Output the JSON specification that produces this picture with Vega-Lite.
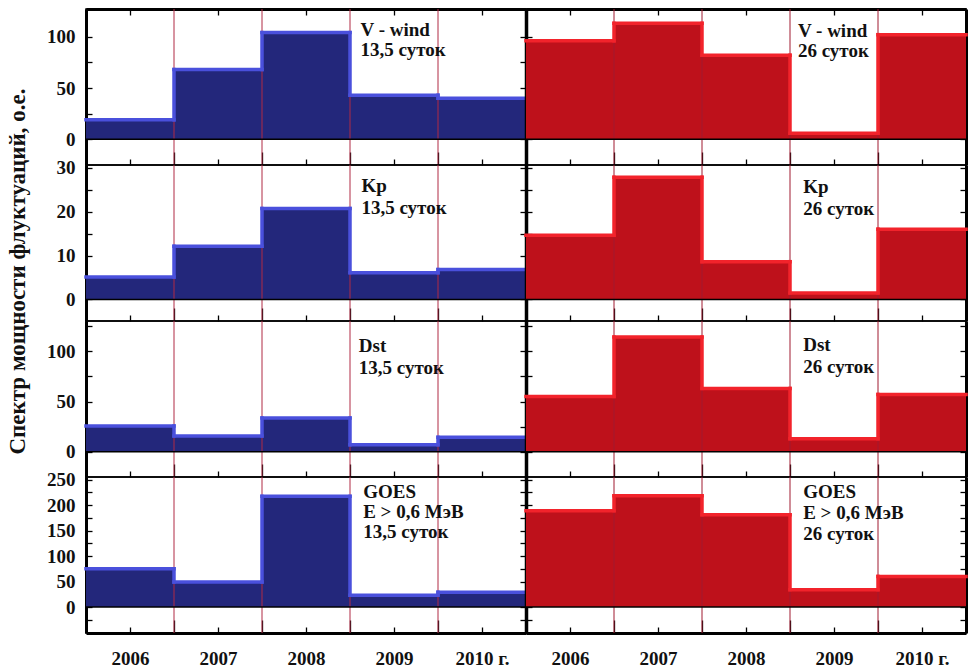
{
 "$schema": "https://vega.github.io/schema/vega-lite/v6.json",
 "background": "white",
 "padding": {"left": 5, "top": 7, "right": 4, "bottom": 0},
 "bounds": "flush",
 "spacing": 0,
 "columns": 2,
 "config": {
  "view": {"stroke": "black", "strokeWidth": 1.5},
  "axis": {"labelFont": "Liberation Serif", "labelFontWeight": "bold", "labelFontSize": 19, "labelColor": "#111111", "tickColor": "black", "tickWidth": 1.3, "domainColor": "black", "grid": false, "title": null, "zindex": 1}
 },
 "data": {"values": [
  {"p": "V", "s": "L", "year": 2006, "end": 2007, "v": 19},
  {"p": "V", "s": "L", "year": 2007, "end": 2008, "v": 68},
  {"p": "V", "s": "L", "year": 2008, "end": 2009, "v": 104},
  {"p": "V", "s": "L", "year": 2009, "end": 2010, "v": 43},
  {"p": "V", "s": "L", "year": 2010, "end": 2011, "v": 40},
  {"p": "V", "s": "R", "year": 2006, "end": 2007, "v": 96},
  {"p": "V", "s": "R", "year": 2007, "end": 2008, "v": 113},
  {"p": "V", "s": "R", "year": 2008, "end": 2009, "v": 82},
  {"p": "V", "s": "R", "year": 2009, "end": 2010, "v": 6},
  {"p": "V", "s": "R", "year": 2010, "end": 2011, "v": 102},
  {"p": "K", "s": "L", "year": 2006, "end": 2007, "v": 5.1},
  {"p": "K", "s": "L", "year": 2007, "end": 2008, "v": 12.1},
  {"p": "K", "s": "L", "year": 2008, "end": 2009, "v": 20.7},
  {"p": "K", "s": "L", "year": 2009, "end": 2010, "v": 6.1},
  {"p": "K", "s": "L", "year": 2010, "end": 2011, "v": 6.8},
  {"p": "K", "s": "R", "year": 2006, "end": 2007, "v": 14.6},
  {"p": "K", "s": "R", "year": 2007, "end": 2008, "v": 27.8},
  {"p": "K", "s": "R", "year": 2008, "end": 2009, "v": 8.6},
  {"p": "K", "s": "R", "year": 2009, "end": 2010, "v": 1.5},
  {"p": "K", "s": "R", "year": 2010, "end": 2011, "v": 16},
  {"p": "D", "s": "L", "year": 2006, "end": 2007, "v": 25.7},
  {"p": "D", "s": "L", "year": 2007, "end": 2008, "v": 15.8},
  {"p": "D", "s": "L", "year": 2008, "end": 2009, "v": 33.6},
  {"p": "D", "s": "L", "year": 2009, "end": 2010, "v": 7},
  {"p": "D", "s": "L", "year": 2010, "end": 2011, "v": 14.4},
  {"p": "D", "s": "R", "year": 2006, "end": 2007, "v": 55},
  {"p": "D", "s": "R", "year": 2007, "end": 2008, "v": 114},
  {"p": "D", "s": "R", "year": 2008, "end": 2009, "v": 63},
  {"p": "D", "s": "R", "year": 2009, "end": 2010, "v": 13},
  {"p": "D", "s": "R", "year": 2010, "end": 2011, "v": 57},
  {"p": "G", "s": "L", "year": 2006, "end": 2007, "v": 75},
  {"p": "G", "s": "L", "year": 2007, "end": 2008, "v": 49},
  {"p": "G", "s": "L", "year": 2008, "end": 2009, "v": 217},
  {"p": "G", "s": "L", "year": 2009, "end": 2010, "v": 23},
  {"p": "G", "s": "L", "year": 2010, "end": 2011, "v": 29},
  {"p": "G", "s": "R", "year": 2006, "end": 2007, "v": 189},
  {"p": "G", "s": "R", "year": 2007, "end": 2008, "v": 218},
  {"p": "G", "s": "R", "year": 2008, "end": 2009, "v": 181},
  {"p": "G", "s": "R", "year": 2009, "end": 2010, "v": 34},
  {"p": "G", "s": "R", "year": 2010, "end": 2011, "v": 60}
 ]},
 "concat": [
  {
   "width": 440, "height": 156,
   "transform": [{"filter": "datum.p == 'V' && datum.s == 'L'"}, {"window": [{"op": "lag", "field": "v", "as": "prev"}], "sort": [{"field": "year"}]}],
   "layer": [
    {"mark": {"type": "bar", "color": "#23277b"},
     "encoding": {
      "x": {"field": "year", "type": "quantitative", "scale": {"domain": [2006, 2011], "nice": false, "zero": false}, "axis": {"values": [2006.5, 2007, 2007.5, 2008, 2008.5, 2009, 2009.5, 2010, 2010.5], "labels": false, "domain": false, "tickSize": {"condition": {"test": "datum.value % 1 == 0", "value": -13}, "value": -6}, "title": null}},
      "x2": {"field": "end"},
      "y": {"field": "v", "type": "quantitative", "scale": {"domain": [-25, 127], "nice": false, "zero": false}, "axis": {"orient": "left", "values": [0, 25, 50, 75, 100], "labelExpr": "datum.value >= 0 && datum.value % 50 == 0 ? datum.label : ''", "tickSize": -6, "labelPadding": 17, "domainWidth": 3, "title": null}},
      "y2": {"datum": 0}
     }},
    {"transform": [{"filter": "datum.year > 2006"}], "mark": {"type": "rule", "color": "#b02a44", "strokeWidth": 1}, "encoding": {"x": {"field": "year", "type": "quantitative", "axis": null}}},
    {"transform": [{"filter": "datum.year == 2006"}], "mark": {"type": "rule", "color": "black", "strokeWidth": 1.5}, "encoding": {"y": {"datum": 0, "type": "quantitative", "axis": null}}},
    {"mark": {"type": "rule", "color": "#4a50dc", "strokeWidth": 3.5, "strokeCap": "square"},
     "encoding": {"x": {"field": "year", "type": "quantitative", "axis": {"orient": "top", "values": [2006.5, 2007.5, 2008.5, 2009.5, 2010.5], "labels": false, "tickSize": -6, "domainWidth": 3, "title": null}}, "x2": {"field": "end"}, "y": {"field": "v", "type": "quantitative", "axis": {"orient": "right", "values": [0, 25, 50, 75, 100], "labels": false, "tickSize": -6, "domain": false, "title": null}}}},
    {"transform": [{"filter": "datum.prev != null"}], "mark": {"type": "rule", "color": "#4a50dc", "strokeWidth": 3.5, "strokeCap": "square"},
     "encoding": {"x": {"field": "year", "type": "quantitative", "axis": null}, "y": {"field": "prev", "type": "quantitative", "axis": null}, "y2": {"field": "v"}}},
    {"transform": [{"filter": "datum.year == 2006"}], "mark": {"type": "text", "align": "left", "baseline": "top", "lineBreak": "\n", "font": "Liberation Serif", "fontWeight": "bold", "fontSize": 19, "lineHeight": 20, "color": "#111111"},
     "encoding": {"x": {"datum": 2009.12, "type": "quantitative", "axis": null}, "y": {"datum": 115, "type": "quantitative", "axis": null}, "text": {"value": "V - wind\n13,5 суток"}}}
   ],
   "resolve": {"axis": {"x": "independent", "y": "independent"}}
  },
  {
   "width": 440, "height": 156,
   "transform": [{"filter": "datum.p == 'V' && datum.s == 'R'"}, {"window": [{"op": "lag", "field": "v", "as": "prev"}], "sort": [{"field": "year"}]}],
   "layer": [
    {"mark": {"type": "bar", "color": "#be111b"},
     "encoding": {
      "x": {"field": "year", "type": "quantitative", "scale": {"domain": [2006, 2011], "nice": false, "zero": false}, "axis": {"values": [2006.5, 2007, 2007.5, 2008, 2008.5, 2009, 2009.5, 2010, 2010.5], "labels": false, "domain": false, "tickSize": {"condition": {"test": "datum.value % 1 == 0", "value": -13}, "value": -6}, "title": null}},
      "x2": {"field": "end"},
      "y": {"field": "v", "type": "quantitative", "scale": {"domain": [-25, 127], "nice": false, "zero": false}, "axis": {"orient": "left", "values": [0, 25, 50, 75, 100], "labels": false, "tickSize": -6, "domainWidth": 3.5, "title": null}},
      "y2": {"datum": 0}
     }},
    {"transform": [{"filter": "datum.year > 2006"}], "mark": {"type": "rule", "color": "#a01a30", "strokeWidth": 1}, "encoding": {"x": {"field": "year", "type": "quantitative", "axis": null}}},
    {"transform": [{"filter": "datum.year == 2006"}], "mark": {"type": "rule", "color": "black", "strokeWidth": 1.5}, "encoding": {"y": {"datum": 0, "type": "quantitative", "axis": null}}},
    {"mark": {"type": "rule", "color": "#f2232b", "strokeWidth": 3.5, "strokeCap": "square"},
     "encoding": {"x": {"field": "year", "type": "quantitative", "axis": {"orient": "top", "values": [2006.5, 2007.5, 2008.5, 2009.5, 2010.5], "labels": false, "tickSize": -6, "domainWidth": 3, "title": null}}, "x2": {"field": "end"}, "y": {"field": "v", "type": "quantitative", "axis": {"orient": "right", "values": [0, 25, 50, 75, 100], "labels": false, "tickSize": -6, "domainWidth": 3, "title": null}}}},
    {"transform": [{"filter": "datum.prev != null"}], "mark": {"type": "rule", "color": "#f2232b", "strokeWidth": 3.5, "strokeCap": "square"},
     "encoding": {"x": {"field": "year", "type": "quantitative", "axis": null}, "y": {"field": "prev", "type": "quantitative", "axis": null}, "y2": {"field": "v"}}},
    {"transform": [{"filter": "datum.year == 2006"}], "mark": {"type": "text", "align": "left", "baseline": "top", "lineBreak": "\n", "font": "Liberation Serif", "fontWeight": "bold", "fontSize": 19, "lineHeight": 20, "color": "#111111"},
     "encoding": {"x": {"datum": 2009.09, "type": "quantitative", "axis": null}, "y": {"datum": 114, "type": "quantitative", "axis": null}, "text": {"value": "V - wind\n26 суток"}}}
   ],
   "resolve": {"axis": {"x": "independent", "y": "independent"}}
  },
  {
   "width": 440, "height": 156,
   "transform": [{"filter": "datum.p == 'K' && datum.s == 'L'"}, {"window": [{"op": "lag", "field": "v", "as": "prev"}], "sort": [{"field": "year"}]}],
   "layer": [
    {"mark": {"type": "bar", "color": "#23277b"},
     "encoding": {
      "x": {"field": "year", "type": "quantitative", "scale": {"domain": [2006, 2011], "nice": false, "zero": false}, "axis": {"values": [2006.5, 2007, 2007.5, 2008, 2008.5, 2009, 2009.5, 2010, 2010.5], "labels": false, "domain": false, "tickSize": {"condition": {"test": "datum.value % 1 == 0", "value": -13}, "value": -6}, "title": null}},
      "x2": {"field": "end"},
      "y": {"field": "v", "type": "quantitative", "scale": {"domain": [-4.9, 30.6], "nice": false, "zero": false}, "axis": {"orient": "left", "values": [0, 5, 10, 15, 20, 25, 30], "labelExpr": "datum.value % 10 == 0 ? datum.label : ''", "tickSize": -6, "labelPadding": 17, "domainWidth": 3, "title": "Спектр мощности флуктуаций, о.е.", "titleFont": "Liberation Serif", "titleFontSize": 23, "titleFontWeight": "bold", "titleColor": "#111111", "titlePadding": 27, "titleAnchor": "middle", "titleY": 106}},
      "y2": {"datum": 0}
     }},
    {"transform": [{"filter": "datum.year > 2006"}], "mark": {"type": "rule", "color": "#b02a44", "strokeWidth": 1}, "encoding": {"x": {"field": "year", "type": "quantitative", "axis": null}}},
    {"transform": [{"filter": "datum.year == 2006"}], "mark": {"type": "rule", "color": "black", "strokeWidth": 1.5}, "encoding": {"y": {"datum": 0, "type": "quantitative", "axis": null}}},
    {"mark": {"type": "rule", "color": "#4a50dc", "strokeWidth": 3.5, "strokeCap": "square"},
     "encoding": {"x": {"field": "year", "type": "quantitative", "axis": null}, "x2": {"field": "end"}, "y": {"field": "v", "type": "quantitative", "axis": {"orient": "right", "values": [0, 5, 10, 15, 20, 25, 30], "labels": false, "tickSize": -6, "domain": false, "title": null}}}},
    {"transform": [{"filter": "datum.prev != null"}], "mark": {"type": "rule", "color": "#4a50dc", "strokeWidth": 3.5, "strokeCap": "square"},
     "encoding": {"x": {"field": "year", "type": "quantitative", "axis": null}, "y": {"field": "prev", "type": "quantitative", "axis": null}, "y2": {"field": "v"}}},
    {"transform": [{"filter": "datum.year == 2006"}], "mark": {"type": "text", "align": "left", "baseline": "top", "lineBreak": "\n", "font": "Liberation Serif", "fontWeight": "bold", "fontSize": 19, "lineHeight": 22, "color": "#111111"},
     "encoding": {"x": {"datum": 2009.13, "type": "quantitative", "axis": null}, "y": {"datum": 27.8, "type": "quantitative", "axis": null}, "text": {"value": "Kp\n13,5 суток"}}}
   ],
   "resolve": {"axis": {"x": "independent", "y": "independent"}}
  },
  {
   "width": 440, "height": 156,
   "transform": [{"filter": "datum.p == 'K' && datum.s == 'R'"}, {"window": [{"op": "lag", "field": "v", "as": "prev"}], "sort": [{"field": "year"}]}],
   "layer": [
    {"mark": {"type": "bar", "color": "#be111b"},
     "encoding": {
      "x": {"field": "year", "type": "quantitative", "scale": {"domain": [2006, 2011], "nice": false, "zero": false}, "axis": {"values": [2006.5, 2007, 2007.5, 2008, 2008.5, 2009, 2009.5, 2010, 2010.5], "labels": false, "domain": false, "tickSize": {"condition": {"test": "datum.value % 1 == 0", "value": -13}, "value": -6}, "title": null}},
      "x2": {"field": "end"},
      "y": {"field": "v", "type": "quantitative", "scale": {"domain": [-4.9, 30.6], "nice": false, "zero": false}, "axis": {"orient": "left", "values": [0, 5, 10, 15, 20, 25, 30], "labels": false, "tickSize": -6, "domainWidth": 3.5, "title": null}},
      "y2": {"datum": 0}
     }},
    {"transform": [{"filter": "datum.year > 2006"}], "mark": {"type": "rule", "color": "#a01a30", "strokeWidth": 1}, "encoding": {"x": {"field": "year", "type": "quantitative", "axis": null}}},
    {"transform": [{"filter": "datum.year == 2006"}], "mark": {"type": "rule", "color": "black", "strokeWidth": 1.5}, "encoding": {"y": {"datum": 0, "type": "quantitative", "axis": null}}},
    {"mark": {"type": "rule", "color": "#f2232b", "strokeWidth": 3.5, "strokeCap": "square"},
     "encoding": {"x": {"field": "year", "type": "quantitative", "axis": null}, "x2": {"field": "end"}, "y": {"field": "v", "type": "quantitative", "axis": {"orient": "right", "values": [0, 5, 10, 15, 20, 25, 30], "labels": false, "tickSize": -6, "domainWidth": 3, "title": null}}}},
    {"transform": [{"filter": "datum.prev != null"}], "mark": {"type": "rule", "color": "#f2232b", "strokeWidth": 3.5, "strokeCap": "square"},
     "encoding": {"x": {"field": "year", "type": "quantitative", "axis": null}, "y": {"field": "prev", "type": "quantitative", "axis": null}, "y2": {"field": "v"}}},
    {"transform": [{"filter": "datum.year == 2006"}], "mark": {"type": "text", "align": "left", "baseline": "top", "lineBreak": "\n", "font": "Liberation Serif", "fontWeight": "bold", "fontSize": 19, "lineHeight": 22, "color": "#111111"},
     "encoding": {"x": {"datum": 2009.15, "type": "quantitative", "axis": null}, "y": {"datum": 27.6, "type": "quantitative", "axis": null}, "text": {"value": "Kp\n26 суток"}}}
   ],
   "resolve": {"axis": {"x": "independent", "y": "independent"}}
  },
  {
   "width": 440, "height": 156,
   "transform": [{"filter": "datum.p == 'D' && datum.s == 'L'"}, {"window": [{"op": "lag", "field": "v", "as": "prev"}], "sort": [{"field": "year"}]}],
   "layer": [
    {"mark": {"type": "bar", "color": "#23277b"},
     "encoding": {
      "x": {"field": "year", "type": "quantitative", "scale": {"domain": [2006, 2011], "nice": false, "zero": false}, "axis": {"values": [2006.5, 2007, 2007.5, 2008, 2008.5, 2009, 2009.5, 2010, 2010.5], "labels": false, "domain": false, "tickSize": {"condition": {"test": "datum.value % 1 == 0", "value": -13}, "value": -6}, "title": null}},
      "x2": {"field": "end"},
      "y": {"field": "v", "type": "quantitative", "scale": {"domain": [-25, 130], "nice": false, "zero": false}, "axis": {"orient": "left", "values": [0, 25, 50, 75, 100, 125], "labelExpr": "datum.value % 50 == 0 ? datum.label : ''", "tickSize": -6, "labelPadding": 17, "domainWidth": 3, "title": null}},
      "y2": {"datum": 0}
     }},
    {"transform": [{"filter": "datum.year > 2006"}], "mark": {"type": "rule", "color": "#b02a44", "strokeWidth": 1}, "encoding": {"x": {"field": "year", "type": "quantitative", "axis": null}}},
    {"transform": [{"filter": "datum.year == 2006"}], "mark": {"type": "rule", "color": "black", "strokeWidth": 1.5}, "encoding": {"y": {"datum": 0, "type": "quantitative", "axis": null}}},
    {"mark": {"type": "rule", "color": "#4a50dc", "strokeWidth": 3.5, "strokeCap": "square"},
     "encoding": {"x": {"field": "year", "type": "quantitative", "axis": null}, "x2": {"field": "end"}, "y": {"field": "v", "type": "quantitative", "axis": {"orient": "right", "values": [0, 25, 50, 75, 100, 125], "labels": false, "tickSize": -6, "domain": false, "title": null}}}},
    {"transform": [{"filter": "datum.prev != null"}], "mark": {"type": "rule", "color": "#4a50dc", "strokeWidth": 3.5, "strokeCap": "square"},
     "encoding": {"x": {"field": "year", "type": "quantitative", "axis": null}, "y": {"field": "prev", "type": "quantitative", "axis": null}, "y2": {"field": "v"}}},
    {"transform": [{"filter": "datum.year == 2006"}], "mark": {"type": "text", "align": "left", "baseline": "top", "lineBreak": "\n", "font": "Liberation Serif", "fontWeight": "bold", "fontSize": 19, "lineHeight": 22, "color": "#111111"},
     "encoding": {"x": {"datum": 2009.1, "type": "quantitative", "axis": null}, "y": {"datum": 114, "type": "quantitative", "axis": null}, "text": {"value": "Dst\n13,5 суток"}}}
   ],
   "resolve": {"axis": {"x": "independent", "y": "independent"}}
  },
  {
   "width": 440, "height": 156,
   "transform": [{"filter": "datum.p == 'D' && datum.s == 'R'"}, {"window": [{"op": "lag", "field": "v", "as": "prev"}], "sort": [{"field": "year"}]}],
   "layer": [
    {"mark": {"type": "bar", "color": "#be111b"},
     "encoding": {
      "x": {"field": "year", "type": "quantitative", "scale": {"domain": [2006, 2011], "nice": false, "zero": false}, "axis": {"values": [2006.5, 2007, 2007.5, 2008, 2008.5, 2009, 2009.5, 2010, 2010.5], "labels": false, "domain": false, "tickSize": {"condition": {"test": "datum.value % 1 == 0", "value": -13}, "value": -6}, "title": null}},
      "x2": {"field": "end"},
      "y": {"field": "v", "type": "quantitative", "scale": {"domain": [-25, 130], "nice": false, "zero": false}, "axis": {"orient": "left", "values": [0, 25, 50, 75, 100, 125], "labels": false, "tickSize": -6, "domainWidth": 3.5, "title": null}},
      "y2": {"datum": 0}
     }},
    {"transform": [{"filter": "datum.year > 2006"}], "mark": {"type": "rule", "color": "#a01a30", "strokeWidth": 1}, "encoding": {"x": {"field": "year", "type": "quantitative", "axis": null}}},
    {"transform": [{"filter": "datum.year == 2006"}], "mark": {"type": "rule", "color": "black", "strokeWidth": 1.5}, "encoding": {"y": {"datum": 0, "type": "quantitative", "axis": null}}},
    {"mark": {"type": "rule", "color": "#f2232b", "strokeWidth": 3.5, "strokeCap": "square"},
     "encoding": {"x": {"field": "year", "type": "quantitative", "axis": null}, "x2": {"field": "end"}, "y": {"field": "v", "type": "quantitative", "axis": {"orient": "right", "values": [0, 25, 50, 75, 100, 125], "labels": false, "tickSize": -6, "domainWidth": 3, "title": null}}}},
    {"transform": [{"filter": "datum.prev != null"}], "mark": {"type": "rule", "color": "#f2232b", "strokeWidth": 3.5, "strokeCap": "square"},
     "encoding": {"x": {"field": "year", "type": "quantitative", "axis": null}, "y": {"field": "prev", "type": "quantitative", "axis": null}, "y2": {"field": "v"}}},
    {"transform": [{"filter": "datum.year == 2006"}], "mark": {"type": "text", "align": "left", "baseline": "top", "lineBreak": "\n", "font": "Liberation Serif", "fontWeight": "bold", "fontSize": 19, "lineHeight": 22, "color": "#111111"},
     "encoding": {"x": {"datum": 2009.15, "type": "quantitative", "axis": null}, "y": {"datum": 115, "type": "quantitative", "axis": null}, "text": {"value": "Dst\n26 суток"}}}
   ],
   "resolve": {"axis": {"x": "independent", "y": "independent"}}
  },
  {
   "width": 440, "height": 156,
   "transform": [{"filter": "datum.p == 'G' && datum.s == 'L'"}, {"window": [{"op": "lag", "field": "v", "as": "prev"}], "sort": [{"field": "year"}]}],
   "layer": [
    {"mark": {"type": "bar", "color": "#23277b"},
     "encoding": {
      "x": {"field": "year", "type": "quantitative", "scale": {"domain": [2006, 2011], "nice": false, "zero": false}, "axis": {"values": [2006.5, 2007, 2007.5, 2008, 2008.5, 2009, 2009.5, 2010, 2010.5], "labelExpr": "datum.value % 1 == 0 ? '' : (datum.value > 2010 ? '2010 г.' : '' + floor(datum.value))", "labelFontSize": 19, "labelPadding": 22, "domainWidth": 3, "tickSize": {"condition": {"test": "datum.value % 1 == 0", "value": -13}, "value": -6}, "title": null}},
      "x2": {"field": "end"},
      "y": {"field": "v", "type": "quantitative", "scale": {"domain": [-51, 255], "nice": false, "zero": false}, "axis": {"orient": "left", "values": [-25, 0, 25, 50, 75, 100, 125, 150, 175, 200, 225, 250], "labelExpr": "datum.value >= 0 && datum.value % 50 == 0 ? datum.label : ''", "tickSize": -6, "labelPadding": 17, "domainWidth": 3, "title": null}},
      "y2": {"datum": 0}
     }},
    {"transform": [{"filter": "datum.year > 2006"}], "mark": {"type": "rule", "color": "#b02a44", "strokeWidth": 1}, "encoding": {"x": {"field": "year", "type": "quantitative", "axis": null}}},
    {"transform": [{"filter": "datum.year == 2006"}], "mark": {"type": "rule", "color": "black", "strokeWidth": 1.5}, "encoding": {"y": {"datum": 0, "type": "quantitative", "axis": null}}},
    {"mark": {"type": "rule", "color": "#4a50dc", "strokeWidth": 3.5, "strokeCap": "square"},
     "encoding": {"x": {"field": "year", "type": "quantitative", "axis": null}, "x2": {"field": "end"}, "y": {"field": "v", "type": "quantitative", "axis": {"orient": "right", "values": [-25, 0, 25, 50, 75, 100, 125, 150, 175, 200, 225, 250], "labels": false, "tickSize": -6, "domain": false, "title": null}}}},
    {"transform": [{"filter": "datum.prev != null"}], "mark": {"type": "rule", "color": "#4a50dc", "strokeWidth": 3.5, "strokeCap": "square"},
     "encoding": {"x": {"field": "year", "type": "quantitative", "axis": null}, "y": {"field": "prev", "type": "quantitative", "axis": null}, "y2": {"field": "v"}}},
    {"transform": [{"filter": "datum.year == 2006"}], "mark": {"type": "text", "align": "left", "baseline": "top", "lineBreak": "\n", "font": "Liberation Serif", "fontWeight": "bold", "fontSize": 19, "lineHeight": 20, "color": "#111111"},
     "encoding": {"x": {"datum": 2009.15, "type": "quantitative", "axis": null}, "y": {"datum": 243, "type": "quantitative", "axis": null}, "text": {"value": "GOES\nE > 0,6 МэВ\n13,5 суток"}}}
   ],
   "resolve": {"axis": {"x": "independent", "y": "independent"}}
  },
  {
   "width": 440, "height": 156,
   "transform": [{"filter": "datum.p == 'G' && datum.s == 'R'"}, {"window": [{"op": "lag", "field": "v", "as": "prev"}], "sort": [{"field": "year"}]}],
   "layer": [
    {"mark": {"type": "bar", "color": "#be111b"},
     "encoding": {
      "x": {"field": "year", "type": "quantitative", "scale": {"domain": [2006, 2011], "nice": false, "zero": false}, "axis": {"values": [2006.5, 2007, 2007.5, 2008, 2008.5, 2009, 2009.5, 2010, 2010.5], "labelExpr": "datum.value % 1 == 0 ? '' : (datum.value > 2010 ? '2010 г.' : '' + floor(datum.value))", "labelFontSize": 19, "labelPadding": 22, "domainWidth": 3, "tickSize": {"condition": {"test": "datum.value % 1 == 0", "value": -13}, "value": -6}, "title": null}},
      "x2": {"field": "end"},
      "y": {"field": "v", "type": "quantitative", "scale": {"domain": [-51, 255], "nice": false, "zero": false}, "axis": {"orient": "left", "values": [-25, 0, 25, 50, 75, 100, 125, 150, 175, 200, 225, 250], "labels": false, "tickSize": -6, "domainWidth": 3.5, "title": null}},
      "y2": {"datum": 0}
     }},
    {"transform": [{"filter": "datum.year > 2006"}], "mark": {"type": "rule", "color": "#a01a30", "strokeWidth": 1}, "encoding": {"x": {"field": "year", "type": "quantitative", "axis": null}}},
    {"transform": [{"filter": "datum.year == 2006"}], "mark": {"type": "rule", "color": "black", "strokeWidth": 1.5}, "encoding": {"y": {"datum": 0, "type": "quantitative", "axis": null}}},
    {"mark": {"type": "rule", "color": "#f2232b", "strokeWidth": 3.5, "strokeCap": "square"},
     "encoding": {"x": {"field": "year", "type": "quantitative", "axis": null}, "x2": {"field": "end"}, "y": {"field": "v", "type": "quantitative", "axis": {"orient": "right", "values": [-25, 0, 25, 50, 75, 100, 125, 150, 175, 200, 225, 250], "labels": false, "tickSize": -6, "domainWidth": 3, "title": null}}}},
    {"transform": [{"filter": "datum.prev != null"}], "mark": {"type": "rule", "color": "#f2232b", "strokeWidth": 3.5, "strokeCap": "square"},
     "encoding": {"x": {"field": "year", "type": "quantitative", "axis": null}, "y": {"field": "prev", "type": "quantitative", "axis": null}, "y2": {"field": "v"}}},
    {"transform": [{"filter": "datum.year == 2006"}], "mark": {"type": "text", "align": "left", "baseline": "top", "lineBreak": "\n", "font": "Liberation Serif", "fontWeight": "bold", "fontSize": 19, "lineHeight": 21, "color": "#111111"},
     "encoding": {"x": {"datum": 2009.15, "type": "quantitative", "axis": null}, "y": {"datum": 243, "type": "quantitative", "axis": null}, "text": {"value": "GOES\nE > 0,6 МэВ\n26 суток"}}}
   ],
   "resolve": {"axis": {"x": "independent", "y": "independent"}}
  }
 ]
}
